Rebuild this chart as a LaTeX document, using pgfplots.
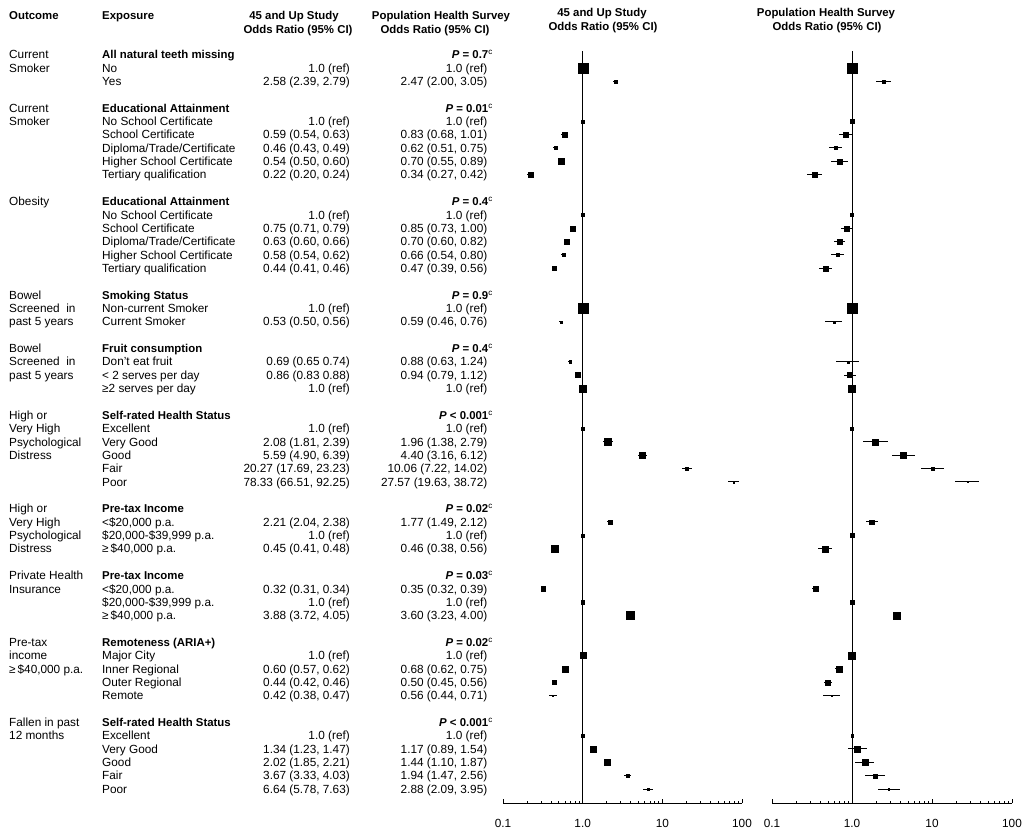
\documentclass[border=0pt]{standalone}
\usepackage{pgfplots}
\pgfplotsset{compat=1.18}
\usepackage{pgfplotstable}
\usepackage{fontspec}
\setmainfont{Liberation Sans}
\newcommand\rg{\fontsize{11.8}{13}\selectfont}
\newcommand\bd{\fontsize{11.4}{13}\selectfont\bfseries}
\newcommand\supc{\textsuperscript{\mdseries\fontsize{8}{8}\selectfont c}}

\pgfplotstableread[row sep=\\]{
r or lo hi m\\
1 1.0 1.0 1.0 5\\
2 2.58 2.39 2.79 1.5\\
5 1.0 1.0 1.0 1.6\\
6 0.59 0.54 0.63 2.5\\
7 0.46 0.43 0.49 1.5\\
8 0.54 0.50 0.60 3\\
9 0.22 0.20 0.24 2.5\\
12 1.0 1.0 1.0 1.6\\
13 0.75 0.71 0.79 2.5\\
14 0.63 0.60 0.66 2.5\\
15 0.58 0.54 0.62 1.5\\
16 0.44 0.41 0.46 2\\
19 1.0 1.0 1.0 5\\
20 0.53 0.50 0.56 1\\
23 0.69 0.65 0.74 1.2\\
24 0.86 0.83 0.88 2.5\\
25 1.0 1.0 1.0 3.8\\
28 1.0 1.0 1.0 1.6\\
29 2.08 1.81 2.39 3.5\\
30 5.59 4.90 6.39 3\\
31 20.27 17.69 23.23 1.5\\
32 78.33 66.51 92.25 0.7\\
35 2.21 2.04 2.38 2.3\\
36 1.0 1.0 1.0 1.6\\
37 0.45 0.41 0.48 3.5\\
40 0.32 0.31 0.34 2.3\\
41 1.0 1.0 1.0 1.6\\
42 3.88 3.72 4.05 4\\
45 1.0 1.0 1.0 3\\
46 0.60 0.57 0.62 3\\
47 0.44 0.42 0.46 2\\
48 0.42 0.38 0.47 0.7\\
51 1.0 1.0 1.0 1.6\\
52 1.34 1.23 1.47 3\\
53 2.02 1.85 2.21 3\\
54 3.67 3.33 4.03 1.5\\
55 6.64 5.78 7.63 1\\
}\tA

\pgfplotstableread[row sep=\\]{
r or lo hi m\\
1 1.0 1.0 1.0 5\\
2 2.47 2.00 3.05 1.5\\
5 1.0 1.0 1.0 1.8\\
6 0.83 0.68 1.01 2.5\\
7 0.62 0.51 0.75 1.5\\
8 0.70 0.55 0.89 2.8\\
9 0.34 0.27 0.42 2.8\\
12 1.0 1.0 1.0 1.5\\
13 0.85 0.73 1.00 2.5\\
14 0.70 0.60 0.82 2.8\\
15 0.66 0.54 0.80 1.5\\
16 0.47 0.39 0.56 2.5\\
19 1.0 1.0 1.0 5\\
20 0.59 0.46 0.76 1\\
23 0.88 0.63 1.24 1\\
24 0.94 0.79 1.12 2.5\\
25 1.0 1.0 1.0 3.5\\
28 1.0 1.0 1.0 1.5\\
29 1.96 1.38 2.79 3\\
30 4.40 3.16 6.12 3\\
31 10.06 7.22 14.02 1.5\\
32 27.57 19.63 38.72 0.6\\
35 1.77 1.49 2.12 2.3\\
36 1.0 1.0 1.0 2\\
37 0.46 0.38 0.56 3\\
40 0.35 0.32 0.39 2.3\\
41 1.0 1.0 1.0 2.3\\
42 3.60 3.23 4.00 3.5\\
45 1.0 1.0 1.0 3.5\\
46 0.68 0.62 0.75 3\\
47 0.50 0.45 0.56 2.5\\
48 0.56 0.44 0.71 0.6\\
51 1.0 1.0 1.0 1.2\\
52 1.17 0.89 1.54 3\\
53 1.44 1.10 1.87 3\\
54 1.94 1.47 2.56 2\\
55 2.88 2.09 3.95 0.6\\
}\tB

\newcommand\TL[3]{\node[anchor=base west,inner sep=0pt,font=\rg] at (#1,{58.8+13.355*(#2)}) {#3};}
\newcommand\TR[3]{\node[anchor=base east,inner sep=0pt,font=\rg] at (#1,{58.8+13.355*(#2)}) {#3};}
\newcommand\V[3]{\TR{350}{#1}{#2}\TR{487.5}{#1}{#3}}
\newcommand\G[3]{\TL{102}{#1}{\bd #2}\TR{493}{#1}{\bd\textit{P} #3\supc}}

\begin{document}
\begin{tikzpicture}
\useasboundingbox (0pt,0pt) rectangle (1023pt,-837pt);

\begin{axis}[at={(503pt,-803pt)}, anchor=south west, width=239pt,
    xmode=log, xmin=0.1, xmax=100, ymin=-0.262, ymax=56.047, y dir=reverse,
    scale only axis, height=752pt, clip=false,
    axis x line*=bottom, hide y axis,
    x axis line style={line width=1pt},
    xtick={0.1,1,10,100}, xticklabels={0.1,1.0,10,100},
    minor xtick={0.2,0.3,0.4,0.5,0.6,0.7,0.8,0.9,2,3,4,5,6,7,8,9,20,30,40,50,60,70,80,90},
    tick align=inside, major tick length=4pt, minor tick length=2.5pt,
    tick style={black, line width=0.8pt},
    xticklabel style={font=\rg, anchor=base, yshift=-24pt, inner sep=0pt}]
\addplot[line width=1pt] coordinates {(1,-0.262) (1,56.047)};
\addplot[scatter, only marks, mark=square*,
    scatter/use mapped color={draw=black, fill=black},
    visualization depends on={\thisrow{m} \as \ms},
    scatter/@pre marker code/.append style={/tikz/mark size=\ms},
    mark options={line width=0.1pt},
    error bars/.cd, x dir=both, x explicit, error mark=none,
    error bar style={line width=1pt, black}]
  table[x=or, y=r, x error plus expr=\thisrow{hi}-\thisrow{or}, x error minus expr=\thisrow{or}-\thisrow{lo}] \tA;
\end{axis}

\begin{axis}[at={(772pt,-803pt)}, anchor=south west, width=240pt,
    xmode=log, xmin=0.1, xmax=100, ymin=-0.262, ymax=56.047, y dir=reverse,
    scale only axis, height=752pt, clip=false,
    axis x line*=bottom, hide y axis,
    x axis line style={line width=1pt},
    xtick={0.1,1,10,100}, xticklabels={0.1,1.0,10,100},
    minor xtick={0.2,0.3,0.4,0.5,0.6,0.7,0.8,0.9,2,3,4,5,6,7,8,9,20,30,40,50,60,70,80,90},
    tick align=inside, major tick length=4pt, minor tick length=2.5pt,
    tick style={black, line width=0.8pt},
    xticklabel style={font=\rg, anchor=base, yshift=-24pt, inner sep=0pt}]
\addplot[line width=1pt] coordinates {(1,-0.262) (1,56.047)};
\addplot[scatter, only marks, mark=square*,
    scatter/use mapped color={draw=black, fill=black},
    visualization depends on={\thisrow{m} \as \ms},
    scatter/@pre marker code/.append style={/tikz/mark size=\ms},
    mark options={line width=0.1pt},
    error bars/.cd, x dir=both, x explicit, error mark=none,
    error bar style={line width=1pt, black}]
  table[x=or, y=r, x error plus expr=\thisrow{hi}-\thisrow{or}, x error minus expr=\thisrow{or}-\thisrow{lo}] \tB;
\end{axis}

\begin{scope}[x=1pt,y=-1pt]
% headers
\node[anchor=base west,inner sep=0pt,font=\bd] at (9,19.3) {Outcome};
\node[anchor=base west,inner sep=0pt,font=\bd] at (102,19.3) {Exposure};
\node[anchor=base,inner sep=0pt,font=\bd] at (294,19.3) {45 and Up Study};
\node[anchor=base,inner sep=0pt,font=\bd] at (298,34) {Odds Ratio (95\% CI)};
\node[anchor=base,inner sep=0pt,font=\bd] at (441,19.3) {Population Health Survey};
\node[anchor=base,inner sep=0pt,font=\bd] at (435,34) {Odds Ratio (95\% CI)};
\node[anchor=base,inner sep=0pt,font=\bd] at (602,17) {45 and Up Study};
\node[anchor=base,inner sep=0pt,font=\bd] at (603,31) {Odds Ratio (95\% CI)};
\node[anchor=base,inner sep=0pt,font=\bd] at (826,17) {Population Health Survey};
\node[anchor=base,inner sep=0pt,font=\bd] at (827,31) {Odds Ratio (95\% CI)};

% outcomes
\TL{9}{0}{Current}\TL{9}{1}{Smoker}
\TL{9}{4}{Current}\TL{9}{5}{Smoker}
\TL{9}{11}{Obesity}
\TL{9}{18}{Bowel}\TL{9}{19}{Screened\ \ in}\TL{9}{20}{past 5 years}
\TL{9}{22}{Bowel}\TL{9}{23}{Screened\ \ in}\TL{9}{24}{past 5 years}
\TL{9}{27}{High or}\TL{9}{28}{Very High}\TL{9}{29}{Psychological}\TL{9}{30}{Distress}
\TL{9}{34}{High or}\TL{9}{35}{Very High}\TL{9}{36}{Psychological}\TL{9}{37}{Distress}
\TL{9}{39}{Private Health}\TL{9}{40}{Insurance}
\TL{9}{44}{Pre-tax}\TL{9}{45}{income}\TL{9}{46}{≥\,\$40,000 p.a.}
\TL{9}{50}{Fallen in past}\TL{9}{51}{12 months}

% group 1
\G{0}{All natural teeth missing}{= 0.7}
\TL{102}{1}{No}\V{1}{1.0 (ref)}{1.0 (ref)}
\TL{102}{2}{Yes}\V{2}{2.58 (2.39, 2.79)}{2.47 (2.00, 3.05)}
% group 2
\G{4}{Educational Attainment}{= 0.01}
\TL{102}{5}{No School Certificate}\V{5}{1.0 (ref)}{1.0 (ref)}
\TL{102}{6}{School Certificate}\V{6}{0.59 (0.54, 0.63)}{0.83 (0.68, 1.01)}
\TL{102}{7}{Diploma/Trade/Certificate}\V{7}{0.46 (0.43, 0.49)}{0.62 (0.51, 0.75)}
\TL{102}{8}{Higher School Certificate}\V{8}{0.54 (0.50, 0.60)}{0.70 (0.55, 0.89)}
\TL{102}{9}{Tertiary qualification}\V{9}{0.22 (0.20, 0.24)}{0.34 (0.27, 0.42)}
% group 3
\G{11}{Educational Attainment}{= 0.4}
\TL{102}{12}{No School Certificate}\V{12}{1.0 (ref)}{1.0 (ref)}
\TL{102}{13}{School Certificate}\V{13}{0.75 (0.71, 0.79)}{0.85 (0.73, 1.00)}
\TL{102}{14}{Diploma/Trade/Certificate}\V{14}{0.63 (0.60, 0.66)}{0.70 (0.60, 0.82)}
\TL{102}{15}{Higher School Certificate}\V{15}{0.58 (0.54, 0.62)}{0.66 (0.54, 0.80)}
\TL{102}{16}{Tertiary qualification}\V{16}{0.44 (0.41, 0.46)}{0.47 (0.39, 0.56)}
% group 4
\G{18}{Smoking Status}{= 0.9}
\TL{102}{19}{Non-current Smoker}\V{19}{1.0 (ref)}{1.0 (ref)}
\TL{102}{20}{Current Smoker}\V{20}{0.53 (0.50, 0.56)}{0.59 (0.46, 0.76)}
% group 5
\G{22}{Fruit consumption}{= 0.4}
\TL{102}{23}{Don't eat fruit}\V{23}{0.69 (0.65 0.74)}{0.88 (0.63, 1.24)}
\TL{102}{24}{< 2 serves per day}\V{24}{0.86 (0.83 0.88)}{0.94 (0.79, 1.12)}
\TL{102}{25}{≥2 serves per day}\V{25}{1.0 (ref)}{1.0 (ref)}
% group 6
\G{27}{Self-rated Health Status}{< 0.001}
\TL{102}{28}{Excellent}\V{28}{1.0 (ref)}{1.0 (ref)}
\TL{102}{29}{Very Good}\V{29}{2.08 (1.81, 2.39)}{1.96 (1.38, 2.79)}
\TL{102}{30}{Good}\V{30}{5.59 (4.90, 6.39)}{4.40 (3.16, 6.12)}
\TL{102}{31}{Fair}\V{31}{20.27 (17.69, 23.23)}{10.06 (7.22, 14.02)}
\TL{102}{32}{Poor}\V{32}{78.33 (66.51, 92.25)}{27.57 (19.63, 38.72)}
% group 7
\G{34}{Pre-tax Income}{= 0.02}
\TL{102}{35}{<\$20,000 p.a.}\V{35}{2.21 (2.04, 2.38)}{1.77 (1.49, 2.12)}
\TL{102}{36}{\$20,000-\$39,999 p.a.}\V{36}{1.0 (ref)}{1.0 (ref)}
\TL{102}{37}{≥\,\$40,000 p.a.}\V{37}{0.45 (0.41, 0.48)}{0.46 (0.38, 0.56)}
% group 8
\G{39}{Pre-tax Income}{= 0.03}
\TL{102}{40}{<\$20,000 p.a.}\V{40}{0.32 (0.31, 0.34)}{0.35 (0.32, 0.39)}
\TL{102}{41}{\$20,000-\$39,999 p.a.}\V{41}{1.0 (ref)}{1.0 (ref)}
\TL{102}{42}{≥\,\$40,000 p.a.}\V{42}{3.88 (3.72, 4.05)}{3.60 (3.23, 4.00)}
% group 9
\G{44}{Remoteness (ARIA+)}{= 0.02}
\TL{102}{45}{Major City}\V{45}{1.0 (ref)}{1.0 (ref)}
\TL{102}{46}{Inner Regional}\V{46}{0.60 (0.57, 0.62)}{0.68 (0.62, 0.75)}
\TL{102}{47}{Outer Regional}\V{47}{0.44 (0.42, 0.46)}{0.50 (0.45, 0.56)}
\TL{102}{48}{Remote}\V{48}{0.42 (0.38, 0.47)}{0.56 (0.44, 0.71)}
% group 10
\G{50}{Self-rated Health Status}{< 0.001}
\TL{102}{51}{Excellent}\V{51}{1.0 (ref)}{1.0 (ref)}
\TL{102}{52}{Very Good}\V{52}{1.34 (1.23, 1.47)}{1.17 (0.89, 1.54)}
\TL{102}{53}{Good}\V{53}{2.02 (1.85, 2.21)}{1.44 (1.10, 1.87)}
\TL{102}{54}{Fair}\V{54}{3.67 (3.33, 4.03)}{1.94 (1.47, 2.56)}
\TL{102}{55}{Poor}\V{55}{6.64 (5.78, 7.63)}{2.88 (2.09, 3.95)}
\end{scope}
\end{tikzpicture}
\end{document}
